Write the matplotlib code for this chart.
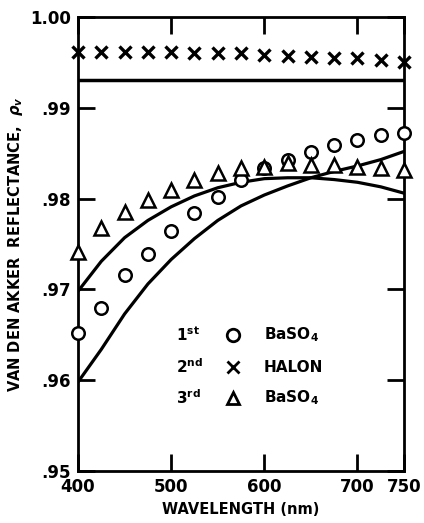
import numpy as np
import matplotlib.pyplot as plt

# wavelengths (nm) of the measurements
wavelength = [400, 425, 450, 475, 500, 525, 550, 575, 600, 625, 650, 675, 700, 725, 750]

# 1st BaSO4 run (circles)
baso4_1st = [0.9652, 0.9680, 0.9716, 0.9739, 0.9764, 0.9784, 0.9802, 0.9820,
             0.9834, 0.9843, 0.9851, 0.9859, 0.9865, 0.9870, 0.9872]
# 2nd run, HALON (crosses)
halon_2nd = [0.9962, 0.9962, 0.9961, 0.9961, 0.9961, 0.9960, 0.9960, 0.9960,
             0.9958, 0.9957, 0.9956, 0.9955, 0.9955, 0.9953, 0.9950]
# 3rd BaSO4 run (triangles)
baso4_3rd = [0.9741, 0.9768, 0.9785, 0.9798, 0.9809, 0.9820, 0.9828, 0.9834,
             0.9835, 0.9839, 0.9837, 0.9837, 0.9835, 0.9834, 0.9831]

# smooth reference curves
curve_upper = [0.9698, 0.9731, 0.9757, 0.9776, 0.9791, 0.9803, 0.9812, 0.9818,
               0.9822, 0.9823, 0.9823, 0.9821, 0.9818, 0.9813, 0.9806]
curve_lower = [0.9598, 0.9634, 0.9673, 0.9706, 0.9733, 0.9756, 0.9776, 0.9792,
               0.9804, 0.9814, 0.9823, 0.9830, 0.9836, 0.9843, 0.9852]
halon_level = 0.9931

y_ticks = [0.95, 0.96, 0.97, 0.98, 0.99, 1.00]
y_tick_labels = [".95", ".96", ".97", ".98", ".99", "1.00"]
x_ticks = [400, 500, 600, 700, 750]

plt.rcParams['font.family'] = 'DejaVu Sans'
plt.rcParams['font.weight'] = 'bold'

fig = plt.figure(figsize=(4.24, 5.23), dpi=100)
ax = fig.add_axes([0.184, 0.0994, 0.769, 0.868])

ax.plot(wavelength, curve_upper, color="black", lw=2.3,
        solid_capstyle="round", solid_joinstyle="round")
ax.plot(wavelength, curve_lower, color="black", lw=2.3,
        solid_capstyle="round", solid_joinstyle="round")
ax.axhline(halon_level, color="black", lw=2.5)

ax.plot(wavelength, baso4_1st, ls="none", marker="o", ms=9, mfc="white",
        mec="black", mew=1.8, clip_on=False, zorder=5)
ax.plot(wavelength, baso4_3rd, ls="none", marker="^", ms=10, mfc="white",
        mec="black", mew=1.8, clip_on=False, zorder=5)
ax.plot(wavelength, halon_2nd, ls="none", marker="x", ms=8, mec="black",
        mew=2.4, clip_on=False, zorder=5)

ax.set_xlim(400, 750)
ax.set_ylim(0.95, 1.00)
ax.set_yticks(y_ticks)
ax.set_yticklabels(y_tick_labels, fontsize=12, fontweight="bold")
ax.set_xticks(x_ticks)
ax.set_xticklabels([str(t) for t in x_ticks], fontsize=12, fontweight="bold")
ax.tick_params(direction="in", length=12, width=2, top=True, right=True,
               pad=5)
for s in ax.spines.values():
    s.set_linewidth(2)

ax.set_xlabel("WAVELENGTH (nm)", fontsize=10.5, fontweight="bold", labelpad=4)
ax.set_ylabel(r"VAN DEN AKKER  REFLECTANCE,  $\rho_v$", fontsize=10.5,
              fontweight="bold", labelpad=4)

# key inside the plot
key_rows = [(0.300, r"1$^{\mathbf{st}}$", "o", "BaSO$_4$"),
            (0.229, r"2$^{\mathbf{nd}}$", "x", "HALON"),
            (0.161, r"3$^{\mathbf{rd}}$", "^", "BaSO$_4$")]
for yk, lab, mk, name in key_rows:
    ax.text(0.30, yk, lab, transform=ax.transAxes, fontsize=11,
            fontweight="bold", va="center", ha="left")
    ax.plot([0.475], [yk], transform=ax.transAxes, marker=mk, ms=9,
            mfc="white", mec="black", mew=2, ls="none")
    ax.text(0.57, yk, name, transform=ax.transAxes, fontsize=11,
            fontweight="bold", va="center", ha="left")

fig.savefig("out.png", dpi=100)
